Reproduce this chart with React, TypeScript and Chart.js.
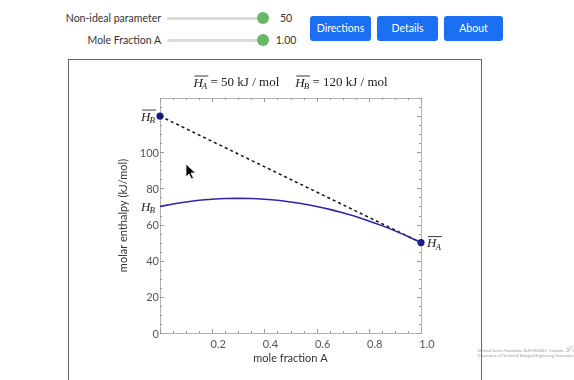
import React, { useEffect, useRef } from "react";
import { Chart, registerables } from "chart.js";

Chart.register(...registerables);

// ---- data ----
const moleFractionA = [0, 0.05, 0.1, 0.15, 0.2, 0.25, 0.3, 0.35, 0.4, 0.45, 0.5, 0.55, 0.6, 0.65, 0.7, 0.75, 0.8, 0.85, 0.9, 0.95, 1.0];
const molarEnthalpy = [70, 71.4, 72.5, 73.4, 74, 74.4, 74.5, 74.4, 74, 73.4, 72.5, 71.4, 70, 68.4, 66.5, 64.4, 62, 59.4, 56.5, 53.4, 50];
const tangentX = [0, 1];
const tangentY = [120, 50];
const partialA = 50;
const partialB = 120;
const xTicks = [0.2, 0.4, 0.6, 0.8, 1.0];
const yTicks = [0, 20, 40, 60, 80, 100];

const SERIF = '"Liberation Serif", "DejaVu Serif", serif';
const SANS = 'Lato, "Open Sans", sans-serif';

function drawH(ctx: CanvasRenderingContext2D, x: number, y: number, sub: string, bar: boolean, draw = true): number {
  ctx.save();
  ctx.font = `italic 13px ${SERIF}`;
  const w1 = ctx.measureText("H").width;
  ctx.font = `italic 9px ${SERIF}`;
  const w2 = ctx.measureText(sub).width;
  if (draw) {
    ctx.fillStyle = "#222";
    ctx.textBaseline = "alphabetic";
    ctx.textAlign = "left";
    ctx.font = `italic 13px ${SERIF}`;
    ctx.fillText("H", x, y + 4.5);
    ctx.font = `italic 9px ${SERIF}`;
    ctx.fillText(sub, x + w1 - 1, y + 7);
    if (bar) {
      ctx.strokeStyle = "#222";
      ctx.lineWidth = 0.9;
      ctx.beginPath();
      ctx.moveTo(x + 1, y - 6);
      ctx.lineTo(x + w1 + w2, y - 6);
      ctx.stroke();
    }
  }
  ctx.restore();
  return w1 + w2 - 1;
}

const framePlugin = {
  id: "frameTicks",
  beforeDatasetsDraw(chart: any) {
    const { ctx, chartArea: a, scales } = chart;
    const xs = scales.x;
    const ys = scales.y;
    ctx.save();
    ctx.strokeStyle = "#b3b3b3";
    ctx.lineWidth = 1;
    ctx.strokeRect(a.left + 0.5, a.top + 0.5, a.right - a.left, a.bottom - a.top);
    ctx.strokeStyle = "#9a9a9a";
    ctx.beginPath();
    for (let i = 0; i <= 20; i++) {
      const v = i / 20;
      const len = i % 4 === 0 ? 4 : 2;
      const px = Math.round(xs.getPixelForValue(v)) + 0.5;
      ctx.moveTo(px, a.bottom);
      ctx.lineTo(px, a.bottom - len);
      ctx.moveTo(px, a.top);
      ctx.lineTo(px, a.top + len);
    }
    for (let v = 0; v <= 130; v += 5) {
      const len = v % 20 === 0 ? 4 : 2;
      const py = Math.round(ys.getPixelForValue(v)) + 0.5;
      ctx.moveTo(a.left, py);
      ctx.lineTo(a.left + len, py);
      ctx.moveTo(a.right, py);
      ctx.lineTo(a.right - len, py);
    }
    ctx.stroke();
    ctx.restore();
  },
  afterDatasetsDraw(chart: any) {
    const { ctx, chartArea: a, scales } = chart;
    const xs = scales.x;
    const ys = scales.y;
    ctx.save();
    // title
    ctx.font = `13px ${SERIF}`;
    const t1 = ` = ${partialA} kJ / mol`;
    const t2 = ` = ${partialB} kJ / mol`;
    const wt1 = ctx.measureText(t1).width;
    const wt2 = ctx.measureText(t2).width;
    const wh = drawH(ctx, 0, 0, "A", true, false);
    const gap = 16;
    const total = wh + wt1 + gap + wh + wt2;
    let cx = (a.left + a.right) / 2 - total / 2;
    const ty = 22;
    drawH(ctx, cx, ty, "A", true);
    cx += wh;
    ctx.font = `13px ${SERIF}`;
    ctx.fillStyle = "#222";
    ctx.textBaseline = "middle";
    ctx.fillText(t1, cx, ty + 0.5);
    cx += wt1 + gap;
    drawH(ctx, cx, ty, "B", true);
    cx += wh;
    ctx.font = `13px ${SERIF}`;
    ctx.fillStyle = "#222";
    ctx.textBaseline = "middle";
    ctx.fillText(t2, cx, ty + 0.5);

    // point labels
    const pB = ys.getPixelForValue(tangentY[0]);
    const wB = drawH(ctx, 0, 0, "B", true, false);
    drawH(ctx, xs.getPixelForValue(0) - 5 - wB, pB, "B", true);
    const pH = ys.getPixelForValue(molarEnthalpy[0]);
    drawH(ctx, xs.getPixelForValue(0) - 5 - wB, pH, "B", false);
    const pA = ys.getPixelForValue(tangentY[1]);
    drawH(ctx, xs.getPixelForValue(1) + 6, pA, "A", true);

    // mouse cursor seen in the screenshot
    const mx = 117, my = 104;
    ctx.beginPath();
    const pts = [[0, 0], [0, 13], [3, 10], [5.5, 15], [7.5, 14], [5, 9], [9.5, 9]];
    ctx.moveTo(mx + pts[0][0], my + pts[0][1]);
    for (const p of pts.slice(1)) ctx.lineTo(mx + p[0], my + p[1]);
    ctx.closePath();
    ctx.fillStyle = "#000";
    ctx.fill();
    ctx.strokeStyle = "#fff";
    ctx.lineWidth = 0.8;
    ctx.stroke();
    ctx.restore();
  },
};

function ChartBox() {
  const ref = useRef<HTMLCanvasElement | null>(null);
  useEffect(() => {
    if (!ref.current) return;
    const chart = new Chart(ref.current, {
      type: "line",
      data: {
        datasets: [
          {
            label: "curve",
            data: moleFractionA.map((x, i) => ({ x, y: molarEnthalpy[i] })),
            borderColor: "#2a2aa8",
            borderWidth: 1.6,
            pointRadius: 0,
            cubicInterpolationMode: "monotone",
            clip: false,
          } as any,
          {
            label: "tangent",
            data: tangentX.map((x, i) => ({ x, y: tangentY[i] })),
            borderColor: "#111",
            borderWidth: 1.5,
            borderDash: [3, 3],
            pointRadius: 0,
            clip: false,
          } as any,
          {
            label: "ends",
            data: tangentX.map((x, i) => ({ x, y: tangentY[i] })),
            showLine: false,
            pointRadius: 3.6,
            pointBackgroundColor: "#1b1b86",
            pointBorderColor: "#1b1b86",
            pointBorderWidth: 0,
            clip: false,
          } as any,
        ],
      },
      options: {
        animation: false,
        responsive: false,
        devicePixelRatio: 1,
        layout: { padding: { left: 46, right: 60, top: 38, bottom: 15 } },
        plugins: { legend: { display: false }, tooltip: { enabled: false } },
        scales: {
          x: {
            type: "linear",
            min: 0,
            max: 1,
            afterFit: (s: any) => { s.height = 32; },
            grid: { display: false, drawTicks: false },
            border: { display: false },
            afterBuildTicks: (s: any) => { s.ticks = xTicks.map((v) => ({ value: v })); },
            ticks: {
              color: "#555",
              font: { family: SANS, size: 11 },
              padding: 5,
              labelOffset: 6,
              maxRotation: 0,
              callback: (v: any) => Number(v).toFixed(1),
            },
            title: {
              display: true,
              text: "mole fraction A",
              color: "#333",
              font: { family: SANS, size: 11 },
              padding: { top: 0, bottom: 0 },
            },
          },
          y: {
            type: "linear",
            min: 0,
            max: 130,
            afterFit: (s: any) => { s.width = 45; },
            grid: { display: false, drawTicks: false },
            border: { display: false },
            afterBuildTicks: (s: any) => { s.ticks = yTicks.map((v) => ({ value: v })); },
            ticks: {
              color: "#555",
              font: { family: SANS, size: 11 },
              padding: 1,
              labelOffset: 1,
              callback: (v: any) => String(v),
            },
            title: {
              display: true,
              text: "molar enthalpy (kJ/mol)",
              color: "#333",
              font: { family: SANS, size: 11 },
              padding: { top: 2, bottom: 0 },
            },
          },
        },
      },
      plugins: [framePlugin],
    } as any);
    return () => chart.destroy();
  }, []);
  return (
    <canvas
      ref={ref}
      width={412}
      height={320}
      style={{ position: "absolute", left: 69, top: 60, width: 412, height: 320 }}
    />
  );
}

const labelStyle: React.CSSProperties = {
  position: "absolute",
  left: 0,
  width: 161,
  textAlign: "right",
  fontSize: 10.5,
  color: "#333",
  lineHeight: "14px",
  whiteSpace: "nowrap",
};

function Slider({ y }: { y: number }) {
  return (
    <>
      <div style={{ position: "absolute", left: 167, top: y - 1.5, width: 96, height: 3, borderRadius: 2, background: "#dcdcdc" }} />
      <div style={{ position: "absolute", left: 257, top: y - 6, width: 12, height: 12, borderRadius: 6, background: "#66b866" }} />
    </>
  );
}

const btn: React.CSSProperties = {
  position: "absolute",
  top: 16,
  height: 25,
  background: "#1a6ff2",
  color: "#fff",
  borderRadius: 3,
  fontSize: 10.5,
  lineHeight: "25px",
  textAlign: "center",
};

export default function App() {
  return (
    <div style={{ position: "fixed", left: 0, top: 0, width: 574, height: 380, background: "#fff", overflow: "hidden", fontFamily: SANS }}>
      <div style={{ ...labelStyle, top: 11 }}>Non-ideal parameter</div>
      <Slider y={18} />
      <div style={{ position: "absolute", left: 272, width: 28, top: 11, textAlign: "center", fontSize: 10.5, lineHeight: "14px", color: "#333" }}>50</div>
      <div style={{ ...labelStyle, top: 33 }}>Mole Fraction A</div>
      <Slider y={40} />
      <div style={{ position: "absolute", left: 272, width: 28, top: 33, textAlign: "center", fontSize: 10.5, lineHeight: "14px", color: "#333" }}>1.00</div>
      <div style={{ ...btn, left: 310, width: 61 }}>Directions</div>
      <div style={{ ...btn, left: 377, width: 61 }}>Details</div>
      <div style={{ ...btn, left: 444, width: 59 }}>About</div>
      <div style={{ position: "absolute", left: 68, top: 59, width: 412, height: 340, border: "1px solid #666" }} />
      <ChartBox />
      <div style={{ position: "absolute", left: 478, top: 347, fontSize: 3.5, lineHeight: "4.5px", color: "#999", whiteSpace: "nowrap" }}>
        <div>National Science Foundation, DUE-0920640 · Colorado &nbsp;<span style={{ fontStyle: "italic", fontSize: 8, color: "#aaa" }}>ℒℬℛ</span></div>
        <div>Department of Chemical &amp; Biological Engineering, University of Colorado</div>
      </div>
    </div>
  );
}
